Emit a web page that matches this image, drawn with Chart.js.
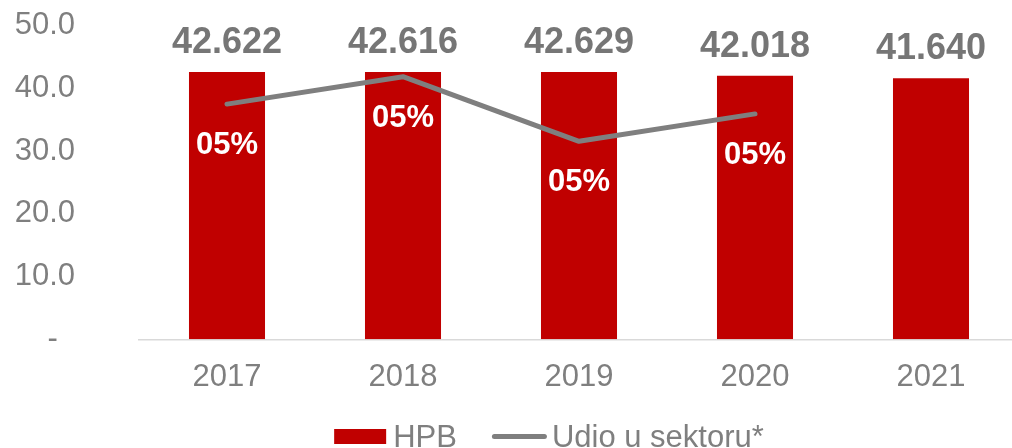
<!DOCTYPE html>
<html><head><meta charset="utf-8">
<script src="https://cdn.jsdelivr.net/npm/chart.js@4.4.1/dist/chart.umd.min.js"></script>
<style>html,body{margin:0;padding:0;overflow:hidden;background:#fff}</style>
</head><body>
<canvas id="c" width="1019" height="448"></canvas>
<script>
const categories = ['2017', '2018', '2019', '2020', '2021'];
const hpbValues = [42.622, 42.616, 42.629, 42.018, 41.640];
const shareValues = [0.0510, 0.0517, 0.05005, 0.05075, null];
const seriesNames = ['HPB', 'Udio u sektoru*'];
const yMin = 0, yMax = 50, yStep = 10;

const FONT = '"Liberation Sans", Arial, sans-serif';
const GRAY = '#7f7f7f';
const RED = '#c00000';
const LINE_GRAY = '#7f7f7f';

function fmtShare(v) { return String(Math.round(v * 100)).padStart(2, '0') + '%'; }

const labelPlugin = {
  id: 'customLabels',
  afterDatasetsDraw(chart) {
    const ctx = chart.ctx;
    ctx.save();
    ctx.textAlign = 'center';
    ctx.textBaseline = 'alphabetic';
    // bar value labels
    ctx.font = 'bold 36px ' + FONT;
    ctx.fillStyle = '#767676';
    chart.getDatasetMeta(0).data.forEach((el, i) => {
      ctx.fillText(hpbValues[i].toFixed(3), el.x, el.y - 19);
    });
    // line labels
    ctx.font = 'bold 31px ' + FONT;
    ctx.fillStyle = '#ffffff';
    chart.getDatasetMeta(1).data.forEach((el, i) => {
      if (shareValues[i] == null) return;
      ctx.fillText(fmtShare(shareValues[i]), el.x, el.y + 50);
    });
    // legend
    ctx.font = '31px ' + FONT;
    ctx.textAlign = 'left';
    const boxW = 52, boxH = 15, gap1 = 7, gapItems = 35, lineW = 55, gap2 = 5;
    const t1 = ctx.measureText(seriesNames[0]).width;
    const t2 = ctx.measureText(seriesNames[1]).width;
    const total = boxW + gap1 + t1 + gapItems + lineW + gap2 + t2;
    let x = 549 - total / 2;
    const cy = 436.5, baseY = 447;
    ctx.fillStyle = RED;
    ctx.fillRect(x, cy - boxH / 2, boxW, boxH);
    x += boxW + gap1;
    ctx.fillStyle = GRAY;
    ctx.fillText(seriesNames[0], x, baseY);
    x += t1 + gapItems;
    ctx.strokeStyle = LINE_GRAY;
    ctx.lineWidth = 5;
    ctx.lineCap = 'round';
    ctx.beginPath();
    ctx.moveTo(x + 2.5, cy);
    ctx.lineTo(x + lineW - 2.5, cy);
    ctx.stroke();
    x += lineW + gap2;
    ctx.fillStyle = GRAY;
    ctx.fillText(seriesNames[1], x, baseY);
    ctx.restore();
  }
};

new Chart(document.getElementById('c'), {
  data: {
    labels: categories,
    datasets: [
      {
        type: 'bar',
        label: seriesNames[0],
        data: hpbValues,
        backgroundColor: RED,
        barPercentage: 0.432,
        categoryPercentage: 1.0,
        yAxisID: 'y',
        order: 2
      },
      {
        type: 'line',
        label: seriesNames[1],
        data: shareValues,
        borderColor: LINE_GRAY,
        borderWidth: 5,
        borderCapStyle: 'round',
        borderJoinStyle: 'round',
        pointRadius: 0,
        pointHoverRadius: 0,
        tension: 0,
        fill: false,
        yAxisID: 'y2',
        order: 1
      }
    ]
  },
  options: {
    responsive: false,
    animation: false,
    devicePixelRatio: 1,
    layout: { padding: { top: 25.7, left: 0, right: 0, bottom: 0 } },
    plugins: { legend: { display: false }, tooltip: { enabled: false } },
    scales: {
      x: {
        grid: { display: false, drawTicks: false },
        border: { display: true, color: '#d9d9d9', width: 1.5 },
        ticks: { color: GRAY, font: { family: FONT, size: 31 }, padding: 20 },
        afterFit(s) { s.height = 108.7; s.paddingLeft = 0; s.paddingRight = 0; }
      },
      y: {
        min: yMin, max: yMax,
        grid: { display: false, drawTicks: false },
        border: { display: false },
        ticks: {
          stepSize: yStep,
          color: GRAY,
          font: { family: FONT, size: 31 },
          padding: 64,
          callback: v => v === 0 ? '-  ' : Number(v).toFixed(1)
        },
        afterFit(s) { s.width = 139; s.paddingTop = 0; s.paddingBottom = 0; }
      },
      y2: {
        display: false,
        min: 0.045, max: 0.053
      }
    }
  },
  plugins: [labelPlugin]
});
</script>
</body></html>
